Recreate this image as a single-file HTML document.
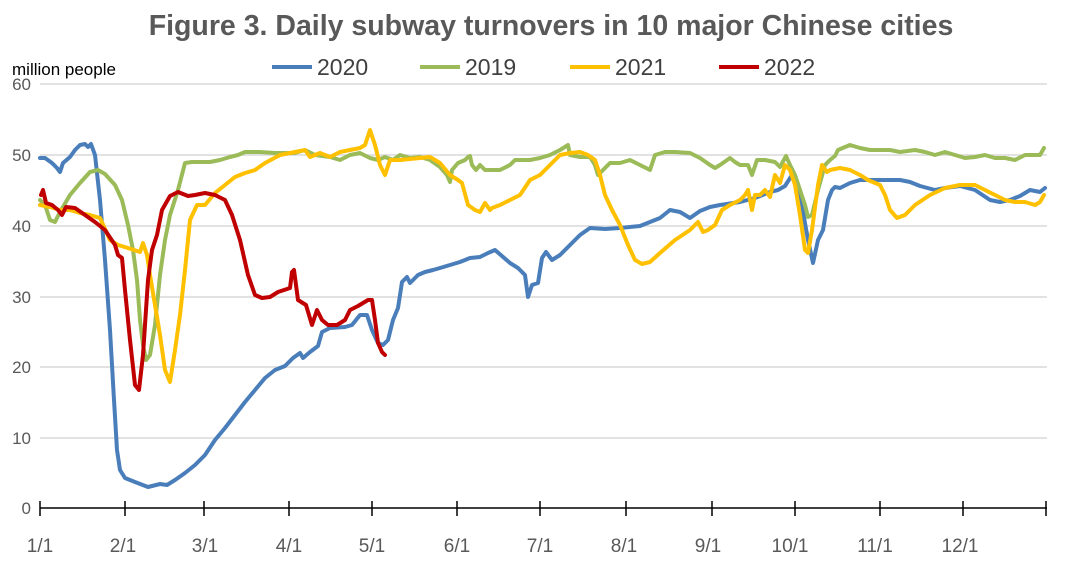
<!DOCTYPE html>
<html><head><meta charset="utf-8"><style>
html,body{margin:0;padding:0;background:#fff;}
svg{display:block;font-family:"Liberation Sans",sans-serif;}
</style></head><body>
<svg width="1080" height="569" viewBox="0 0 1080 569" xmlns="http://www.w3.org/2000/svg">
<rect width="1080" height="569" fill="#fff"/>
<text x="551" y="35" text-anchor="middle" font-size="28.5" font-weight="bold" fill="#595959">Figure 3. Daily subway turnovers in 10 major Chinese cities</text>
<text x="12" y="75" font-size="17" fill="#000">million people</text>
<g font-size="23" fill="#404040">
<line x1="272" y1="67" x2="312" y2="67" stroke="#4a7ebb" stroke-width="4"/><text x="317" y="75">2020</text>
<line x1="420" y1="67" x2="460" y2="67" stroke="#9bbb59" stroke-width="4"/><text x="465" y="75">2019</text>
<line x1="570" y1="67" x2="610" y2="67" stroke="#ffc000" stroke-width="4"/><text x="615" y="75">2021</text>
<line x1="719" y1="67" x2="759" y2="67" stroke="#c00000" stroke-width="4"/><text x="764" y="75">2022</text>
</g>
<g stroke="#d9d9d9" stroke-width="1.5">
<line x1="40" y1="84" x2="1047" y2="84"/><line x1="40" y1="155" x2="1047" y2="155"/><line x1="40" y1="226" x2="1047" y2="226"/><line x1="40" y1="297" x2="1047" y2="297"/><line x1="40" y1="367" x2="1047" y2="367"/><line x1="40" y1="438" x2="1047" y2="438"/>
</g>
<g font-size="17" fill="#595959" text-anchor="end">
<text x="31" y="90">60</text><text x="31" y="161">50</text><text x="31" y="232">40</text><text x="31" y="303">30</text><text x="31" y="373">20</text><text x="31" y="444">10</text><text x="31" y="514">0</text>
</g>
<g stroke="#000" stroke-width="1.5">
<line x1="40" y1="508" x2="1047" y2="508"/>
<line x1="40" y1="501" x2="40" y2="516"/><line x1="125" y1="501" x2="125" y2="516"/><line x1="204" y1="501" x2="204" y2="516"/><line x1="289" y1="501" x2="289" y2="516"/><line x1="372" y1="501" x2="372" y2="516"/><line x1="457" y1="501" x2="457" y2="516"/><line x1="540" y1="501" x2="540" y2="516"/><line x1="626" y1="501" x2="626" y2="516"/><line x1="712" y1="501" x2="712" y2="516"/><line x1="795" y1="501" x2="795" y2="516"/><line x1="880" y1="501" x2="880" y2="516"/><line x1="963" y1="501" x2="963" y2="516"/><line x1="1046" y1="501" x2="1046" y2="516"/>
</g>
<g font-size="19" fill="#595959" text-anchor="middle">
<text x="40" y="552">1/1</text><text x="123" y="552">2/1</text><text x="205" y="552">3/1</text><text x="289" y="552">4/1</text><text x="372" y="552">5/1</text><text x="457" y="552">6/1</text><text x="540" y="552">7/1</text><text x="624" y="552">8/1</text><text x="708" y="552">9/1</text><text x="790" y="552">10/1</text><text x="875" y="552">11/1</text><text x="960" y="552">12/1</text>
</g>
<g fill="none" stroke-width="4" stroke-linejoin="round" stroke-linecap="round">
<polyline stroke="#4a7ebb" points="40,158 45,158 52,163 57,168 60,172 63,163 70,157 75,150 80,145 85,144 88,147 91,144 95,155 100,200 105,260 110,330 114,400 117,450 120,470 125,478 135,482 148,487 160,484 167,485 175,480 185,473 195,465 205,455 215,440 225,428 235,415 245,402 255,390 265,378 275,370 285,366 293,358 300,353 303,358 310,352 318,346 322,332 330,328 345,327 352,325 360,315 367,315 372,330 378,343 383,345 388,340 393,320 398,308 402,282 407,277 410,283 418,275 425,272 433,270 440,268 450,265 460,262 470,258 480,257 488,253 495,250 510,263 518,268 525,275 528,297 532,285 538,283 542,258 546,252 552,260 560,255 570,245 580,235 590,228 605,229 620,228 640,226 660,218 670,210 680,212 690,218 700,211 710,207 720,205 740,202 755,198 770,192 778,190 785,186 792,175 800,195 808,240 813,263 818,240 823,230 828,200 832,190 835,187 840,188 850,183 860,180 880,180 900,180 910,182 920,186 935,190 945,188 960,186 975,190 990,200 1000,202 1010,200 1020,196 1030,190 1040,192 1045,188"/>
<polyline stroke="#9bbb59" points="40,200 45,205 50,220 55,222 60,212 70,195 80,183 90,172 98,170 105,174 115,185 122,200 128,225 133,250 137,280 140,320 143,345 146,360 150,355 155,325 160,275 165,240 170,215 178,190 185,163 192,162 200,162 210,162 220,160 230,157 238,155 245,152 260,152 275,153 295,153 305,150 315,155 330,157 340,160 350,155 360,153 370,158 378,160 385,157 393,160 400,155 410,158 420,157 430,160 440,167 447,175 450,182 452,170 458,163 465,160 468,157 470,156 472,165 476,170 480,165 485,170 490,170 500,170 510,165 515,160 520,160 530,160 540,158 550,155 560,150 568,145 570,155 580,157 590,157 595,165 598,175 610,163 620,163 630,160 640,165 650,170 655,155 665,152 675,152 690,153 700,158 710,165 715,168 720,165 730,158 735,162 740,165 748,165 752,175 757,160 765,160 775,162 780,167 786,156 790,165 795,175 800,190 805,205 808,217 812,215 818,190 825,165 830,160 835,156 838,150 845,147 850,145 860,148 870,150 890,150 900,152 915,150 925,152 935,155 945,152 955,155 965,158 975,157 985,155 995,158 1005,158 1015,160 1025,155 1035,155 1040,155 1044,148"/>
<polyline stroke="#ffc000" points="40,205 50,207 60,210 70,210 80,213 90,215 100,218 110,240 118,245 128,248 140,252 143,243 147,255 150,275 155,305 160,335 165,370 170,382 175,350 180,315 185,270 190,220 197,205 205,205 215,193 225,185 235,177 245,173 255,170 265,163 280,155 295,152 305,150 310,157 320,153 330,157 340,152 350,150 360,148 365,145 370,130 375,145 380,165 385,175 390,160 400,160 420,158 430,157 440,163 450,175 458,180 462,183 468,205 475,210 480,212 485,203 490,210 492,208 500,205 510,200 520,195 530,180 540,175 550,165 560,155 570,153 580,152 588,155 595,160 600,175 605,195 612,210 620,225 628,245 635,260 642,264 650,262 660,253 675,240 690,230 698,222 703,232 708,230 715,225 722,210 730,205 740,200 745,195 748,190 752,210 755,195 760,195 765,190 770,197 775,175 780,183 785,165 790,170 795,185 800,215 805,250 808,253 812,230 818,185 822,165 827,172 830,170 840,168 850,170 860,175 868,180 880,185 885,195 890,210 897,218 905,215 915,205 930,195 945,188 960,185 975,185 985,190 995,195 1005,200 1015,202 1025,202 1035,205 1040,202 1044,195"/>
<polyline stroke="#c00000" points="41,195 43,190 46,203 52,205 58,210 62,215 66,207 75,208 85,215 95,222 105,230 115,245 118,255 122,258 125,290 130,340 135,385 139,390 143,355 148,280 152,250 157,235 162,210 170,196 178,192 188,196 195,195 205,193 215,195 225,200 232,215 240,240 248,275 255,295 262,298 270,297 278,292 290,288 292,272 294,270 298,300 306,305 312,325 317,310 322,320 328,325 337,325 345,320 350,310 358,306 368,300 372,300 375,320 378,343 382,352 385,355"/>
</g>
</svg>
</body></html>
